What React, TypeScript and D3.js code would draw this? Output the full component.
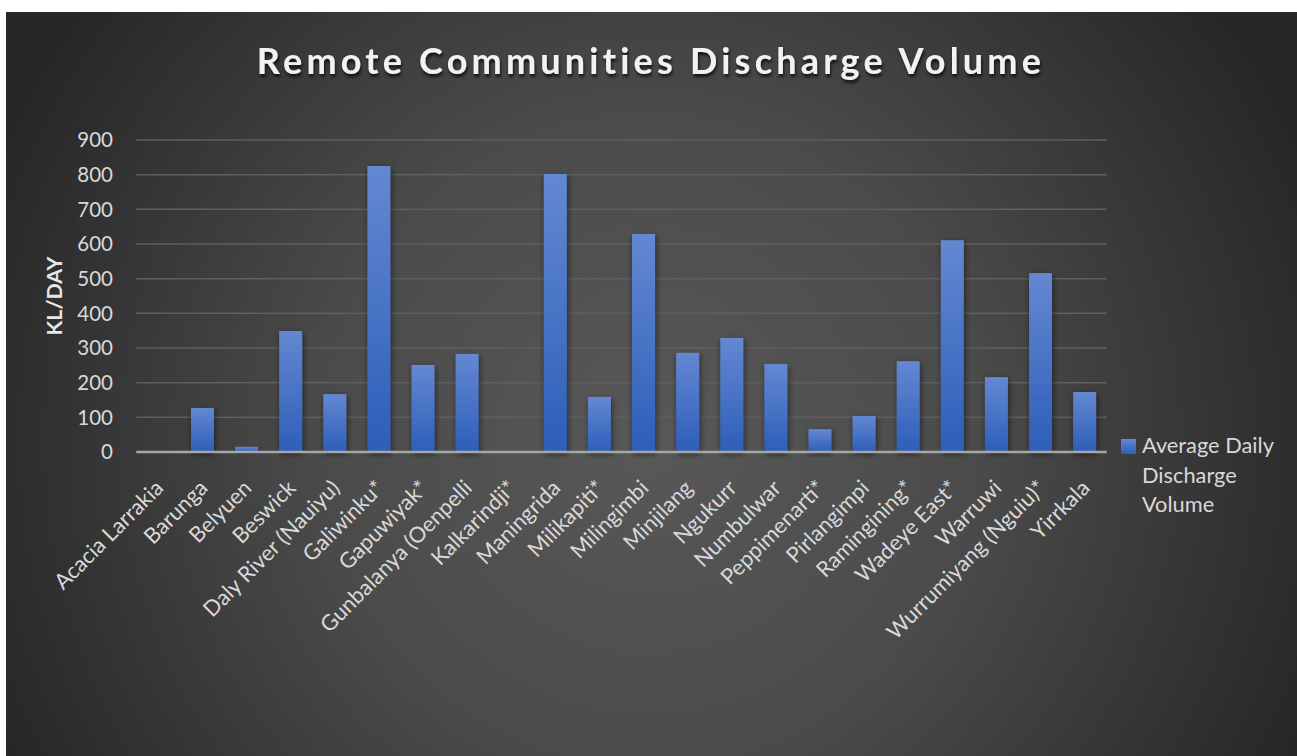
import React from "react";
import * as d3 from "d3";

const categories = [
  "Acacia Larrakia", "Barunga", "Belyuen", "Beswick", "Daly River (Nauiyu)",
  "Galiwinku*", "Gapuwiyak*", "Gunbalanya (Oenpelli", "Kalkarindji*", "Maningrida",
  "Milikapiti*", "Milingimbi", "Minjilang", "Ngukurr", "Numbulwar",
  "Peppimenarti*", "Pirlangimpi", "Ramingining*", "Wadeye East*", "Warruwi",
  "Wurrumiyang (Nguiu)*", "Yirrkala",
];
const dischargeValues = [
  0, 127, 15, 349, 167, 825, 251, 283, 0, 802, 159, 629, 286, 329, 254, 66, 104, 262, 611, 216, 516, 173,
];
const yTicks = [0, 100, 200, 300, 400, 500, 600, 700, 800, 900];
const seriesName = ["Average Daily", "Discharge", "Volume"];
const titleText = "Remote Communities Discharge Volume";
const yAxisTitle = "KL/DAY";

const W = 1297;
const H = 756;
const FONT = "Lato, 'Open Sans', sans-serif";

export default function App() {
  const plotLeft = 136.3;
  const plotRight = 1106.7;
  const plotTop = 140;
  const plotBottom = 452;

  const x = d3.scaleBand<string>().domain(categories).range([plotLeft, plotRight]).paddingInner(0.48).paddingOuter(0.24);
  const y = d3.scaleLinear().domain([0, 900]).range([plotBottom, plotTop]);

  return (
    <svg width={W} height={H} style={{ position: "absolute", left: 0, top: 0, display: "block" }} fontFamily={FONT}>
      <defs>
        <radialGradient id="bg" cx="650" cy="440" r="720" gradientUnits="userSpaceOnUse">
          <stop offset="0" stopColor="#585858" />
          <stop offset="0.45" stopColor="#4b4b4b" />
          <stop offset="1" stopColor="#262626" />
        </radialGradient>
        <linearGradient id="bar" x1="0" y1="0" x2="0" y2="1">
          <stop offset="0" stopColor="#6488d2" />
          <stop offset="1" stopColor="#2d5eb9" />
        </linearGradient>
        <filter id="shadow" x="-50%" y="-20%" width="200%" height="140%">
          <feGaussianBlur in="SourceAlpha" stdDeviation="3" />
          <feOffset dx="1" dy="2" result="b" />
          <feComponentTransfer>
            <feFuncA type="linear" slope="0.55" />
          </feComponentTransfer>
          <feMerge>
            <feMergeNode />
            <feMergeNode in="SourceGraphic" />
          </feMerge>
        </filter>
        <filter id="tshadow" x="-10%" y="-50%" width="120%" height="200%">
          <feGaussianBlur in="SourceAlpha" stdDeviation="1.8" />
          <feOffset dx="1" dy="3" result="b" />
          <feComponentTransfer>
            <feFuncA type="linear" slope="0.7" />
          </feComponentTransfer>
          <feMerge>
            <feMergeNode />
            <feMergeNode in="SourceGraphic" />
          </feMerge>
        </filter>
      </defs>
      <rect x={0} y={0} width={W} height={H} fill="#ffffff" />
      <rect x={6} y={12} width={W - 6} height={H - 12} fill="url(#bg)" />

      <text x={651} y={74} textAnchor="middle" fontSize={36} fontWeight="bold" fill="#f2f2f2" letterSpacing={4.2} filter="url(#tshadow)">
        {titleText}
      </text>

      {yTicks.filter((t) => t > 0).map((t) => (
        <line key={"g" + t} x1={plotLeft} x2={plotRight} y1={y(t)} y2={y(t)} stroke="#5f5f5f" strokeWidth={1.5} />
      ))}

      {yTicks.map((t) => (
        <text key={"t" + t} x={113} y={y(t)} dy="0.35em" textAnchor="end" fontSize={20.5} fill="#d9d9d9">
          {t}
        </text>
      ))}

      <text transform={`translate(62,${(plotTop + plotBottom) / 2}) rotate(-90)`} textAnchor="middle" fontSize={21.5} fontWeight="bold" fill="#e6e6e6">
        {yAxisTitle}
      </text>

      {categories.map((c, i) => {
        const v = dischargeValues[i];
        if (v <= 0) return null;
        return (
          <rect key={c} x={x(c)} y={y(v)} width={x.bandwidth()} height={y(0) - y(v)} fill="url(#bar)" filter="url(#shadow)" />
        );
      })}

      <line x1={plotLeft} x2={plotRight} y1={y(0)} y2={y(0)} stroke="#a6a6a6" strokeWidth={2.5} />

      {categories.map((c) => {
        const cx = (x(c) as number) + x.bandwidth() / 2;
        return (
          <text key={"l" + c} transform={`translate(${cx + 1},${484}) rotate(-45)`} textAnchor="end" dy="0.35em" fontSize={21.8} fill="#d9d9d9">
            {c}
          </text>
        );
      })}

      <rect x={1121} y={439} width={15} height={15} fill="url(#bar)" />
      {seriesName.map((s, i) => (
        <text key={s} x={1142} y={453 + i * 29.5} fontSize={21.8} fill="#d9d9d9">
          {s}
        </text>
      ))}
    </svg>
  );
}
